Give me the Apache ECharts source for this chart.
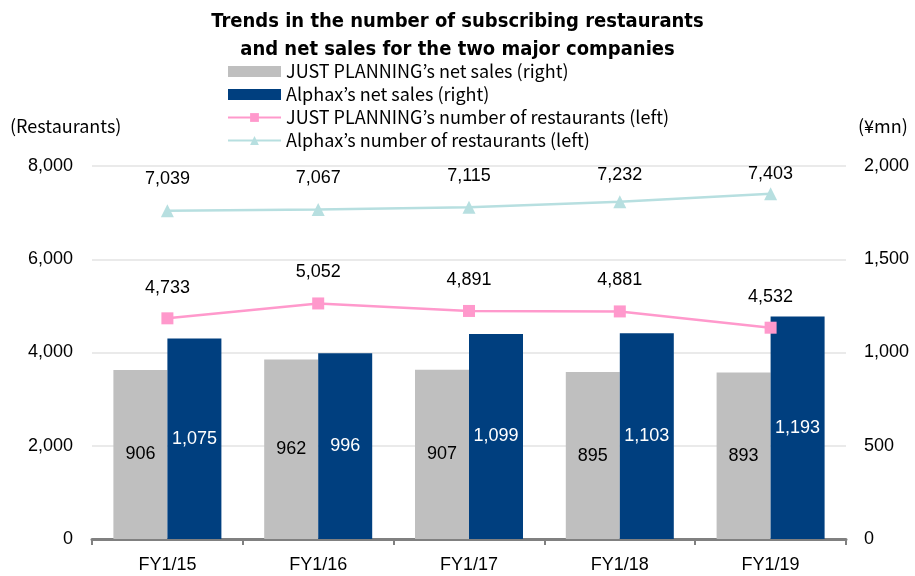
<!DOCTYPE html>
<html><head><meta charset="utf-8">
<script src="https://cdn.jsdelivr.net/npm/echarts@6/dist/echarts.min.js"></script>
<style>html,body{margin:0;padding:0;background:#fff}#c{width:915px;height:576px}</style>
</head><body><div id="c"></div>
<script>
const categories = ['FY1/15','FY1/16','FY1/17','FY1/18','FY1/19'];
const jpSales = [906, 962, 907, 895, 893];
const alphaxSales = [1075, 996, 1099, 1103, 1193];
const jpRestaurants = [4733, 5052, 4891, 4881, 4532];
const alphaxRestaurants = [7039, 7067, 7115, 7232, 7403];
const leftTicks = [0, 2000, 4000, 6000, 8000];
const rightTicks = [0, 500, 1000, 1500, 2000];
const seriesNames = ['JUST PLANNING’s net sales (right)', 'Alphax’s net sales (right)', 'JUST PLANNING’s number of restaurants (left)', 'Alphax’s number of restaurants (left)'];

// label placement tweaks (style only, vertical pixel shift of value labels)
const alphaxLabelShift = [0, 0, 0, 5, 12];
const jpLabelShift = [1, 0, 0, 0, 0];

const condensed = '"DejaVu Sans Condensed", "DejaVu Sans", sans-serif';
const jpFont = '"Noto Sans CJK JP", "Noto Sans", sans-serif';
const numFont = '"Liberation Sans", Arial, sans-serif';
const fmt = v => Number(v).toLocaleString('en-US');
const withShift = (vals, shifts) => vals.map((v, i) => ({value: v, label: {offset: [0, shifts[i]]}}));
const chart = echarts.init(document.getElementById('c'), null, {renderer: 'canvas'});
chart.setOption({
  animation: false,
  backgroundColor: '#fff',
  title: {
    text: 'Trends in the number of subscribing restaurants\nand net sales for the two major companies',
    left: 'center', top: 3,
    textStyle: {fontFamily: condensed, fontWeight: 'bold', fontSize: 20, lineHeight: 28, color: '#000'}
  },
  legend: {
    orient: 'vertical', left: 227, top: 62, padding: 0, itemWidth: 53, itemHeight: 11, itemGap: 4,
    textStyle: {fontFamily: jpFont, fontSize: 18, color: '#000', lineHeight: 19},
    data: [
      {name: seriesNames[0], icon: 'rect'},
      {name: seriesNames[1], icon: 'rect'},
      {name: seriesNames[2]},
      {name: seriesNames[3]}
    ]
  },
  graphic: [
    {type: 'text', left: 10, top: 117, style: {text: '(Restaurants)', font: '18px ' + jpFont, fill: '#000'}},
    {type: 'text', left: 858, top: 117, style: {text: '(¥mn)', font: '18px ' + jpFont, fill: '#000'}}
  ],
  grid: {left: 92, right: 69, top: 166, bottom: 37, containLabel: false},
  xAxis: {
    type: 'category', data: categories,
    axisLine: {lineStyle: {color: '#808080', width: 3}},
    axisTick: {show: true, length: 6, lineStyle: {color: '#808080', width: 2}},
    axisLabel: {fontFamily: numFont, fontSize: 18, color: '#000', margin: 17}
  },
  yAxis: [
    {type: 'value', min: leftTicks[0], max: leftTicks[leftTicks.length - 1], interval: leftTicks[1] - leftTicks[0],
     axisLine: {show: false}, axisTick: {show: false},
     splitLine: {lineStyle: {color: '#e3e3e3', width: 1.5}},
     axisLabel: {fontFamily: numFont, fontSize: 18, color: '#000', margin: 19, formatter: fmt}},
    {type: 'value', min: rightTicks[0], max: rightTicks[rightTicks.length - 1], interval: rightTicks[1] - rightTicks[0],
     axisLine: {show: false}, axisTick: {show: false}, splitLine: {show: false},
     axisLabel: {fontFamily: numFont, fontSize: 18, color: '#000', margin: 18, formatter: fmt}}
  ],
  series: [
    {name: seriesNames[0], type: 'bar', yAxisIndex: 1, data: jpSales, barWidth: 54, barGap: '0%',
     itemStyle: {color: '#bfbfbf'},
     label: {show: true, position: 'inside', fontFamily: numFont, fontSize: 18, color: '#000', formatter: p => fmt(p.value)}},
    {name: seriesNames[1], type: 'bar', yAxisIndex: 1, data: alphaxSales, barWidth: 54, barGap: '0%',
     itemStyle: {color: '#003f7f'},
     label: {show: true, position: 'inside', fontFamily: numFont, fontSize: 18, color: '#fff', formatter: p => fmt(p.value)}},
    {name: seriesNames[2], type: 'line', yAxisIndex: 0, data: withShift(jpRestaurants, jpLabelShift), symbol: 'rect', symbolSize: 12,
     lineStyle: {color: '#ff99cc', width: 2.5}, itemStyle: {color: '#ff99cc'},
     label: {show: true, position: 'top', distance: 16, fontFamily: numFont, fontSize: 18, color: '#000', formatter: p => fmt(p.value)}},
    {name: seriesNames[3], type: 'line', yAxisIndex: 0, data: withShift(alphaxRestaurants, alphaxLabelShift), symbol: 'triangle', symbolSize: 13,
     lineStyle: {color: '#b7dfe0', width: 2.5}, itemStyle: {color: '#b7dfe0'},
     label: {show: true, position: 'top', distance: 16, fontFamily: numFont, fontSize: 18, color: '#000', formatter: p => fmt(p.value)}}
  ]
});
</script></body></html>
